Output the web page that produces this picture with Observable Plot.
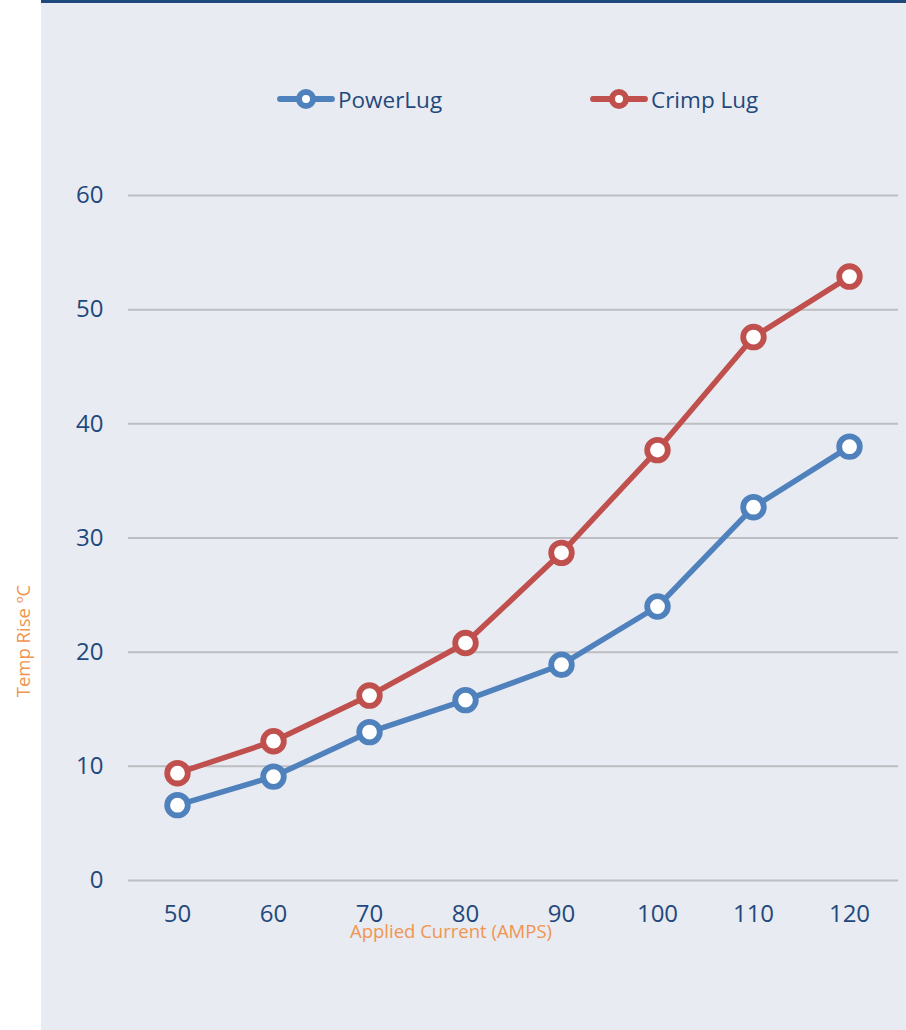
<!DOCTYPE html>
<html>
<head>
<meta charset="utf-8">
<script src="https://cdn.jsdelivr.net/npm/d3@7"></script>
<script src="https://cdn.jsdelivr.net/npm/@observablehq/plot@0.6"></script>
<style>
  html, body { margin: 0; padding: 0; background: #ffffff; }
  #wrap { position: relative; width: 906px; height: 1030px; background: #ffffff; overflow: hidden; font-family: "Open Sans", sans-serif; }
  #panel { position: absolute; left: 41px; top: 0; width: 865px; height: 1030px; background: #E8EBF1; border-top: 3px solid #1F497D; box-sizing: border-box; }
  #chart { position: absolute; left: 0; top: 0; }
  .leg { position: absolute; display: flex; align-items: center; font-size: 22.5px; color: #1F497D; white-space: nowrap; }
  .leg svg { display: block; margin-right: 3px; }
  .title { position: absolute; color: #F09550; font-size: 18.5px; white-space: nowrap; }
</style>
</head>
<body>
<div id="wrap">
  <div id="panel"></div>
  <div id="chart"></div>
</div>
<script>
const currents = ["50", "60", "70", "80", "90", "100", "110", "120"];
const powerLug = [6.6, 9.1, 13.0, 15.8, 18.9, 24.0, 32.7, 38.0];
const crimpLug = [9.4, 12.2, 16.2, 20.8, 28.7, 37.7, 47.6, 52.9];
const seriesNames = ["PowerLug", "Crimp Lug"];
const seriesColors = ["#4F81BD", "#C0504D"];
const yTicks = [0, 10, 20, 30, 40, 50, 60];
const xTitle = "Applied Current (AMPS)";
const yTitle = "Temp Rise ºC";

const data = [];
currents.forEach((c, i) => {
  data.push({current: c, value: powerLug[i], series: seriesNames[0]});
  data.push({current: c, value: crimpLug[i], series: seriesNames[1]});
});

const plot = Plot.plot({
  width: 906,
  height: 1030,
  marginLeft: 128,
  marginRight: 8,
  marginTop: 195,
  marginBottom: 150,
  style: {background: "transparent", fontFamily: "Open Sans, sans-serif", color: "#1F497D", overflow: "visible"},
  x: {type: "point", domain: currents, padding: 0.5, label: null},
  y: {domain: [0, 60], label: null},
  color: {domain: seriesNames, range: seriesColors},
  marks: [
    Plot.ruleY(yTicks, {stroke: "#BDBEC2", strokeWidth: 2}),
    Plot.axisY({ticks: yTicks, tickSize: 0, tickPadding: 25, fontSize: 24, label: null, color: "#1F497D"}),
    Plot.axisX({tickSize: 0, tickPadding: 24, fontSize: 24, label: null, color: "#1F497D"}),
    Plot.line(data, {x: "current", y: "value", z: "series", stroke: "series", strokeWidth: 5.5, strokeLinejoin: "round", strokeLinecap: "round"}),
    Plot.dot(data, {x: "current", y: "value", stroke: "series", fill: "white", r: 10.3, strokeWidth: 5.8})
  ]
});
document.getElementById("chart").appendChild(plot);

const wrap = document.getElementById("wrap");
// Legend
const legendPos = [{left: 277}, {left: 590}];
seriesNames.forEach((name, i) => {
  const d = document.createElement("div");
  d.className = "leg";
  d.style.left = legendPos[i].left + "px";
  d.style.top = "85px";
  d.style.height = "28px";
  const ns = "http://www.w3.org/2000/svg";
  const s = document.createElementNS(ns, "svg");
  s.setAttribute("width", "58");
  s.setAttribute("height", "28");
  const ln = document.createElementNS(ns, "line");
  ln.setAttribute("x1", "3"); ln.setAttribute("x2", "55");
  ln.setAttribute("y1", "14"); ln.setAttribute("y2", "14");
  ln.setAttribute("stroke", seriesColors[i]); ln.setAttribute("stroke-width", "5.8");
  ln.setAttribute("stroke-linecap", "round");
  const c = document.createElementNS(ns, "circle");
  c.setAttribute("cx", "29"); c.setAttribute("cy", "14"); c.setAttribute("r", "7");
  c.setAttribute("fill", "white"); c.setAttribute("stroke", seriesColors[i]); c.setAttribute("stroke-width", "6");
  s.appendChild(ln); s.appendChild(c);
  d.appendChild(s);
  const t = document.createElement("span");
  t.textContent = name;
  d.appendChild(t);
  wrap.appendChild(d);
});

// Axis titles
const xt = document.createElement("div");
xt.className = "title";
xt.textContent = xTitle;
xt.style.left = "451px"; xt.style.top = "930px";
xt.style.transform = "translate(-50%, -50%)";
wrap.appendChild(xt);

const yt = document.createElement("div");
yt.className = "title";
yt.textContent = yTitle;
yt.style.left = "22px"; yt.style.top = "641px";
yt.style.transform = "translate(-50%, -50%) rotate(-90deg)";
wrap.appendChild(yt);
</script>
</body>
</html>
